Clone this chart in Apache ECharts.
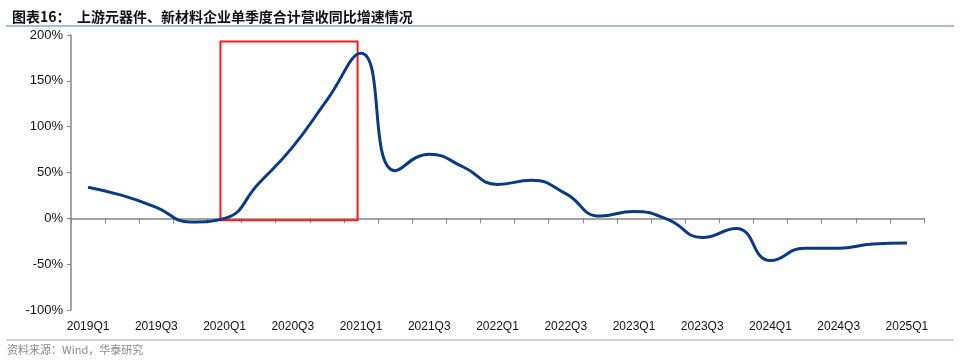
<!DOCTYPE html>
<html><head><meta charset="utf-8">
<script src="https://cdn.jsdelivr.net/npm/echarts@6/dist/echarts.min.js"></script>
<style>html,body{margin:0;padding:0;background:#fff}#c{width:960px;height:364px}</style>
</head><body><div id="c"></div>
<script>
const categories = ['2019Q1','2019Q2','2019Q3','2019Q4','2020Q1','2020Q2','2020Q3','2020Q4','2021Q1','2021Q2','2021Q3','2021Q4','2022Q1','2022Q2','2022Q3','2022Q4','2023Q1','2023Q2','2023Q3','2023Q4','2024Q1','2024Q2','2024Q3','2024Q4','2025Q1'];
const growth = [34, 25, 12, -4, 0, 38, 78, 129, 180, 52, 70, 56, 37, 41.5, 27, 2.5, 7.5, -1.5, -21, -11, -46, -32.5, -32.5, -28, -27];
// highlight box in (quarter index, %) units
const highlightBox = [[3.88, 193], [7.9, -2]];
const yTicks = {min: -100, max: 200, interval: 50};
const titleText = '图表16：  上游元器件、新材料企业单季度合计营收同比增速情况';
const sourceText = '资料来源：Wind，华泰研究';

const chart = echarts.init(document.getElementById('c'));
const axisColor = '#868686';
chart.setOption({
  animation: false,
  title: {text: titleText, left: 7, top: 5, textStyle: {fontFamily: 'Noto Sans CJK SC', fontSize: 14, fontWeight: 'bold', color: '#111'}},
  graphic: [
    {type: 'line', shape: {x1: 6, y1: 26, x2: 954, y2: 26}, style: {stroke: '#8DA6C6', lineWidth: 1.5}},
    {type: 'line', shape: {x1: 6, y1: 340, x2: 954, y2: 340}, style: {stroke: '#8DA6C6', lineWidth: 1}},
    {type: 'text', left: 7, top: 344, style: {text: sourceText, font: '11px "Noto Sans CJK SC"', fill: '#8a8a8a'}}
  ],
  grid: {left: 71, right: 36, top: 35, bottom: 54, containLabel: false},
  xAxis: [
    {type: 'category', data: categories, position: 'top', boundaryGap: true,
     axisLine: {show: true, onZero: true, lineStyle: {color: axisColor, width: 1.5}},
     axisTick: {show: true, inside: true, length: 5, interval: 0, lineStyle: {color: axisColor}},
     axisLabel: {show: false}, splitLine: {show: false}},
    {type: 'category', data: categories, position: 'bottom', boundaryGap: true,
     axisLine: {show: false, onZero: false}, axisTick: {show: false},
     axisLabel: {show: true, interval: 1, color: '#111', fontFamily: 'Liberation Sans', fontSize: 12, margin: 11},
     splitLine: {show: false}},
    {type: 'value', min: -0.5, max: categories.length - 0.5, show: false, position: 'bottom',
     axisLine: {onZero: false}, splitLine: {show: false}}
  ],
  yAxis: {type: 'value', min: yTicks.min, max: yTicks.max, interval: yTicks.interval,
    axisLine: {show: true, onZero: false, lineStyle: {color: axisColor, width: 1.5}},
    axisTick: {show: true, length: 4, lineStyle: {color: axisColor}},
    axisLabel: {formatter: '{value}%', color: '#111', fontFamily: 'Liberation Sans', fontSize: 13, margin: 8},
    splitLine: {show: false}},
  series: [{
    type: 'line', xAxisIndex: 0, data: growth, smooth: 0.5, symbol: 'none',
    lineStyle: {color: '#0A3A80', width: 3}
  }, {
    type: 'line', xAxisIndex: 2, data: [], symbol: 'none',
    markArea: {silent: true, itemStyle: {color: 'rgba(0,0,0,0)', borderColor: '#FF1A1A', borderWidth: 2},
      data: [[{coord: highlightBox[0]}, {coord: highlightBox[1]}]]}
  }]
});
</script></body></html>
